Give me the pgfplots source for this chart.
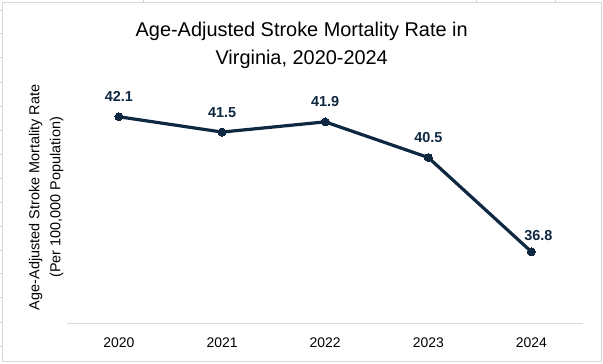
\documentclass[border=0pt]{standalone}
\usepackage{fontspec}
\setmainfont{Liberation Sans}
\usepackage{pgfplots}
\pgfplotsset{compat=1.18}
\definecolor{navy}{HTML}{0E2841}
\definecolor{axgrey}{HTML}{D9D9D9}
\definecolor{cellgrey}{HTML}{D4D4D4}
\begin{document}
\begin{tikzpicture}[x=1bp,y=1bp]
\fill[white] (0,0) rectangle (603,363);
\foreach \yy in {10,33,57,82,106,130,154,178,202,226,250,273,297,322,346}
  \draw[cellgrey, line width=0.8bp] (0,363-\yy) -- (2.5,363-\yy);
\foreach \xx in {143,476,555}
  \draw[cellgrey, line width=0.8bp] (\xx,360.5) -- (\xx,363);
\draw[axgrey, line width=1bp, fill=white] (2.5,2.0) rectangle (601.5,360.5);
\node[font=\fontsize{20}{24}\selectfont, anchor=base] at (301.5,327) {Age-Adjusted Stroke Mortality Rate in};
\node[font=\fontsize{20}{24}\selectfont, anchor=base] at (301.5,299) {Virginia, 2020-2024};
\node[rotate=90, anchor=base, font=\fontsize{14.5}{17}\selectfont] at (39,166) {Age-Adjusted Stroke Mortality Rate};
\node[rotate=90, anchor=base, font=\fontsize{14.5}{17}\selectfont] at (60,166) {(Per 100,000 Population)};
\begin{axis}[
  at={(67bp,40bp)}, anchor=south west,
  scale only axis, width=516bp, height=255bp,
  xmin=-0.5, xmax=4.5, ymin=34, ymax=44,
  axis x line=bottom, axis y line=none,
  x axis line style={axgrey, line width=1bp, -},
  xtick={0,1,2,3,4}, xticklabels={2020,2021,2022,2023,2024},
  ytick=\empty,
  major tick length=0pt,
  xticklabel style={font=\fontsize{14}{16}\selectfont, anchor=base, yshift=-24.3bp, text=black},
  clip=false,
  nodes near coords={\textbf{\pgfmathprintnumber[fixed,fixed zerofill,precision=1,assume math mode=true]{\pgfplotspointmeta}}},
  every node near coord/.append style={font=\fontsize{14.5}{17}\selectfont\bfseries, text=navy, anchor=base, inner sep=0pt, yshift=15bp},
]
\addplot[navy, line width=3.2bp, line join=round, mark=*, mark size=4bp, mark options={solid, fill=navy, line width=0pt}, nodes near coords={}] coordinates {(0,42.1) (1,41.5) (2,41.9) (3,40.5) (4,36.8)};
\addplot[draw=none, mark=none] coordinates {(0,42.1) (1,41.5) (2,41.9) (3,40.5)};
\addplot[draw=none, mark=none, every node near coord/.append style={xshift=7bp, yshift=-3.3bp}] coordinates {(4,36.8)};
\end{axis}
\end{tikzpicture}
\end{document}
